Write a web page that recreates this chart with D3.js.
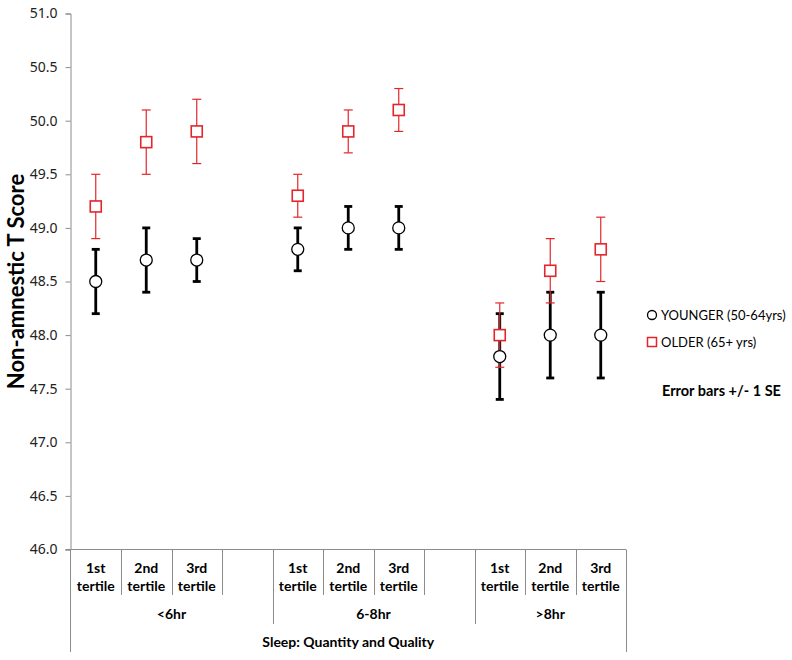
<!DOCTYPE html>
<html lang="en">
<head>
    <meta charset="UTF-8">
    <title>Non-amnestic T Score by sleep</title>
    <script src="https://d3js.org/d3.v7.min.js"></script>
    <style>
        body { margin: 0; background: #fff; }
        text { fill: #000; }
    </style>
</head>
<body>
    <svg width="792" height="660"></svg>
    <script>
        // groups along the x axis, each has 3 tertiles + one empty slot
        const groups = ['<6hr', '6-8hr', '>8hr'];
        const tertiles = ['1st', '2nd', '3rd'];

        // YOUNGER (50-64yrs): mean, lower, upper (+/- 1 SE)
        const youngMean = [48.5, 48.7, 48.7, 48.8, 49.0, 49.0, 47.8, 48.0, 48.0];
        const youngLow  = [48.2, 48.4, 48.5, 48.6, 48.8, 48.8, 47.4, 47.6, 47.6];
        const youngHigh = [48.8, 49.0, 48.9, 49.0, 49.2, 49.2, 48.2, 48.4, 48.4];

        // OLDER (65+ yrs)
        const oldMean = [49.2, 49.8, 49.9, 49.3, 49.9, 50.1, 48.0, 48.6, 48.8];
        const oldLow  = [48.9, 49.5, 49.6, 49.1, 49.7, 49.9, 47.7, 48.3, 48.5];
        const oldHigh = [49.5, 50.1, 50.2, 49.5, 50.1, 50.3, 48.3, 48.9, 49.1];

        const yTicks = [46.0, 46.5, 47.0, 47.5, 48.0, 48.5, 49.0, 49.5, 50.0, 50.5, 51.0];

        const svg = d3.select('svg');
        const plotLeft = 70.5, plotRight = 626, plotTop = 13.5, plotBottom = 549.5;
        const grey = '#8c8c8c';
        const red = '#e3262b';

        // build the slot list (blank slot after each group except the last)
        const slots = [];
        groups.forEach((g, gi) => {
            tertiles.forEach(t => slots.push({ key: g + '|' + t, group: g, tertile: t }));
            if (gi < groups.length - 1) slots.push({ key: g + '|blank', group: g, tertile: null });
        });
        const pts = slots.filter(s => s.tertile);

        const x = d3.scaleBand()
            .domain(slots.map(s => s.key))
            .range([plotLeft, plotRight])
            .padding(0);

        const y = d3.scaleLinear()
            .domain([46, 51])
            .range([plotBottom, plotTop]);

        // y axis
        const yAxis = d3.axisLeft(y)
            .tickValues(yTicks)
            .tickFormat(d3.format('.1f'))
            .tickSize(5)
            .tickPadding(8);

        const gy = svg.append('g')
            .attr('transform', `translate(${plotLeft},0)`)
            .call(yAxis);
        gy.attr('font-family', "'Noto Sans', sans-serif").attr('font-size', 14);
        gy.select('.domain').attr('stroke', grey);
        gy.selectAll('.tick line').attr('stroke', grey);
        gy.selectAll('.tick text').style('fill', '#222');

        svg.append('text')
            .attr('transform', `translate(24,${(plotTop + plotBottom) / 2}) rotate(-90)`)
            .attr('text-anchor', 'middle')
            .attr('font-family', 'Lato, sans-serif')
            .attr('font-weight', 'bold')
            .attr('font-size', 22)
            .text('Non-amnestic T Score');

        // x axis: horizontal line + category table
        const axisG = svg.append('g').attr('stroke', grey).attr('stroke-width', 1);
        axisG.append('line')
            .attr('x1', plotLeft - 5).attr('x2', plotRight)
            .attr('y1', plotBottom).attr('y2', plotBottom);

        const shortY = 595, groupY = 624, outerY = 652;
        slots.forEach((s, i) => {
            if (i === slots.length - 1) return;
            const edge = Math.round(x(s.key) + x.bandwidth()) + 0.5;
            const y2 = s.tertile ? shortY : groupY;
            axisG.append('line')
                .attr('x1', edge).attr('x2', edge)
                .attr('y1', plotBottom).attr('y2', y2);
        });
        axisG.append('line').attr('x1', plotLeft).attr('x2', plotLeft).attr('y1', plotBottom).attr('y2', outerY);
        axisG.append('line').attr('x1', plotRight + 0.5).attr('x2', plotRight + 0.5).attr('y1', plotBottom).attr('y2', outerY);

        const labelFont = 'Lato, sans-serif';
        const cat = svg.append('g')
            .attr('font-family', labelFont)
            .attr('font-weight', 'bold')
            .attr('font-size', 14)
            .attr('text-anchor', 'middle');

        pts.forEach(s => {
            const cx = x(s.key) + x.bandwidth() / 2;
            cat.append('text').attr('x', cx).attr('y', 573).text(s.tertile);
            cat.append('text').attr('x', cx).attr('y', 591).text('tertile');
        });

        groups.forEach(g => {
            const first = x(g + '|1st');
            const last = x(g + '|3rd') + x.bandwidth();
            const gl = g === '>8hr' ? (first + last) / 2 : (first + last + x.bandwidth()) / 2;
            cat.append('text').attr('x', gl).attr('y', 619).text(g);
        });

        cat.append('text')
            .attr('x', (plotLeft + plotRight) / 2)
            .attr('y', 647)
            .text('Sleep: Quantity and Quality');

        const cxOf = i => x(pts[i].key) + x.bandwidth() / 2;

        // error bars
        function errorBars(low, high, color, width, cap) {
            const g = svg.append('g').attr('stroke', color).attr('stroke-width', width);
            low.forEach((lo, i) => {
                const cx = cxOf(i);
                g.append('line').attr('x1', cx).attr('x2', cx).attr('y1', y(lo)).attr('y2', y(high[i]));
                g.append('line').attr('x1', cx - cap).attr('x2', cx + cap).attr('y1', y(lo)).attr('y2', y(lo));
                g.append('line').attr('x1', cx - cap).attr('x2', cx + cap).attr('y1', y(high[i])).attr('y2', y(high[i]));
            });
        }
        errorBars(youngLow, youngHigh, '#000', 2.8, 4);
        errorBars(oldLow, oldHigh, red, 1.2, 4.5);

        // markers
        svg.append('g').selectAll('circle')
            .data(youngMean)
            .join('circle')
            .attr('cx', (d, i) => cxOf(i))
            .attr('cy', d => y(d))
            .attr('r', 6)
            .attr('fill', '#fff')
            .attr('stroke', '#000')
            .attr('stroke-width', 1.3);

        svg.append('g').selectAll('rect')
            .data(oldMean)
            .join('rect')
            .attr('x', (d, i) => cxOf(i) - 5.5)
            .attr('y', d => y(d) - 5.5)
            .attr('width', 11)
            .attr('height', 11)
            .attr('fill', '#fff')
            .attr('stroke', red)
            .attr('stroke-width', 1.6);

        // legend
        const lg = svg.append('g')
            .attr('font-family', labelFont)
            .attr('font-size', 13);
        lg.append('circle').attr('cx', 652).attr('cy', 315).attr('r', 4.5)
            .attr('fill', '#fff').attr('stroke', '#000').attr('stroke-width', 1.3);
        lg.append('text').attr('x', 661).attr('y', 320).text('YOUNGER (50-64yrs)');
        lg.append('rect').attr('x', 647.5).attr('y', 337.5).attr('width', 9).attr('height', 9)
            .attr('fill', '#fff').attr('stroke', red).attr('stroke-width', 1.5);
        lg.append('text').attr('x', 661).attr('y', 347).text('OLDER (65+ yrs)');
        lg.append('text').attr('x', 662).attr('y', 396)
            .attr('font-weight', 'bold').attr('font-size', 14.5)
            .text('Error bars +/- 1 SE');
    </script>
</body>
</html>
